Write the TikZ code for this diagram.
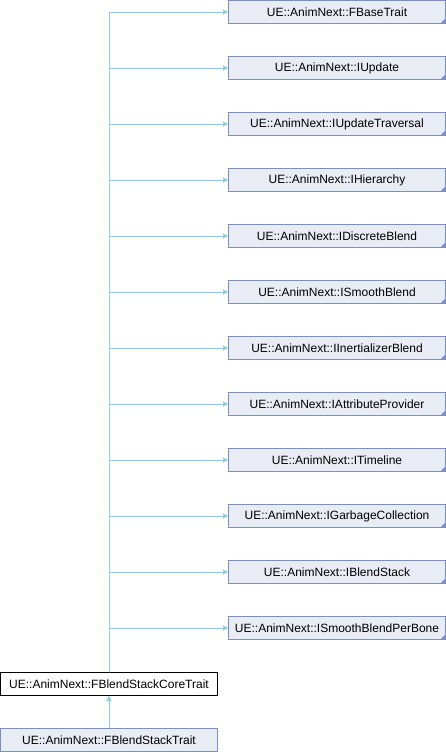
\documentclass[tikz,border=0pt]{standalone}
\usepackage{fontspec}
\setmainfont{Liberation Sans}
\usetikzlibrary{arrows.meta}
\definecolor{boxfill}{RGB}{232,236,245}
\definecolor{boxline}{RGB}{123,142,200}
\definecolor{edgeblue}{RGB}{143,203,234}

\begin{document}
\begin{tikzpicture}[x=1pt,y=1pt,
  every node/.style={font=\fontsize{12}{14}\selectfont,inner sep=0pt,
    minimum width=217pt,minimum height=22.6pt},
  base/.style={draw=boxline,fill=boxfill,line width=0.9pt,
    path picture={\fill[boxline] (path picture bounding box.south east)
      -- ++(-5pt,0) -- ++(5pt,5pt) -- cycle;}},
  plain/.style={draw=boxline,fill=boxfill,line width=0.9pt},
  current/.style={draw=black,fill=white,line width=0.9pt},
  inh/.style={draw=edgeblue,line width=0.8pt,-{Triangle[length=5pt,width=5pt]}}]
  \useasboundingbox (0,0) rectangle (446,-752);
  % base classes
  \node[base] (fbase)   at (337,-12)  {UE::AnimNext::FBaseTrait};
  \node[base] (iupd)    at (337,-68)  {UE::AnimNext::IUpdate};
  \node[base] (itrav)   at (337,-124) {UE::AnimNext::IUpdateTraversal};
  \node[base] (ihier)   at (337,-180) {UE::AnimNext::IHierarchy};
  \node[base] (idisc)   at (337,-236) {UE::AnimNext::IDiscreteBlend};
  \node[base] (ismooth) at (337,-292) {UE::AnimNext::ISmoothBlend};
  \node[base] (iinert)  at (337,-348) {UE::AnimNext::IInertializerBlend};
  \node[base] (iattr)   at (337,-404) {UE::AnimNext::IAttributeProvider};
  \node[base] (itime)   at (337,-460) {UE::AnimNext::ITimeline};
  \node[base] (igc)     at (337,-516) {UE::AnimNext::IGarbageCollection};
  \node[base] (istack)  at (337,-572) {UE::AnimNext::IBlendStack};
  \node[base] (ibone)   at (337,-628) {UE::AnimNext::ISmoothBlendPerBone};
  % this class and the derived one
  \node[current] (core) at (109,-684) {UE::AnimNext::FBlendStackCoreTrait};
  \node[plain] (trait)  at (109,-740) {UE::AnimNext::FBlendStackTrait};
  % inheritance edges
  \draw[inh] (core.north) |- (fbase.west);
  \draw[inh] (core.north) |- (iupd.west);
  \draw[inh] (core.north) |- (itrav.west);
  \draw[inh] (core.north) |- (ihier.west);
  \draw[inh] (core.north) |- (idisc.west);
  \draw[inh] (core.north) |- (ismooth.west);
  \draw[inh] (core.north) |- (iinert.west);
  \draw[inh] (core.north) |- (iattr.west);
  \draw[inh] (core.north) |- (itime.west);
  \draw[inh] (core.north) |- (igc.west);
  \draw[inh] (core.north) |- (istack.west);
  \draw[inh] (core.north) |- (ibone.west);
  \draw[inh] (trait.north) -- (core.south);
\end{tikzpicture}
\end{document}
